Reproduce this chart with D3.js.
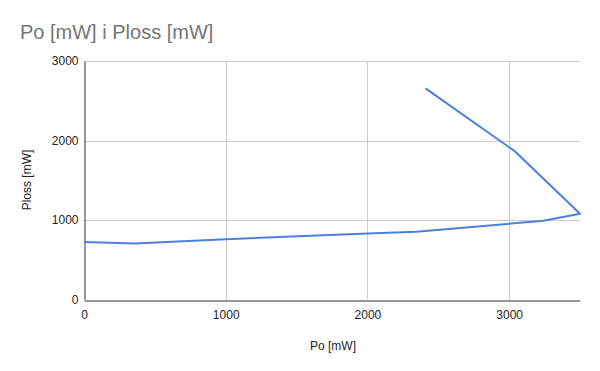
<!DOCTYPE html>
<html>
<head>
<meta charset="utf-8">
<script src="https://cdn.jsdelivr.net/npm/d3@7"></script>
<style>
  body { margin: 0; background: #fff; }
  svg { display: block; font-family: Arial, "Liberation Sans", sans-serif; }
</style>
</head>
<body>
<div id="chart"></div>
<script>
// Po [mW] vs Ploss [mW], in drawing order
const poValues = [0, 360, 1000, 2000, 2345, 3240, 3500, 3040, 2410];
const plossValues = [722, 705, 758, 831, 853, 990, 1078, 1865, 2655];
const xTicks = [0, 1000, 2000, 3000];
const yTicks = [0, 1000, 2000, 3000];

const width = 600;
const height = 371;
const margin = { top: 61, right: 20, bottom: 72, left: 84 };

const svg = d3.select('#chart')
  .append('svg')
  .attr('width', width)
  .attr('height', height);

const x = d3.scaleLinear()
  .domain([0, 3500])
  .range([margin.left, width - margin.right]);

const y = d3.scaleLinear()
  .domain([0, 3000])
  .range([height - margin.bottom + 0.5, margin.top]);

// title
svg.append('text')
  .attr('x', 20)
  .attr('y', 39)
  .attr('fill', '#757575')
  .style('font-size', '20px')
  .text('Po [mW] i Ploss [mW]');

// grid
svg.append('g')
  .selectAll('line')
  .data(yTicks.filter(d => d > 0))
  .enter().append('line')
  .attr('x1', x(0))
  .attr('x2', x(3500))
  .attr('y1', d => Math.round(y(d)) + 0.5)
  .attr('y2', d => Math.round(y(d)) + 0.5)
  .attr('stroke', '#cccccc');

svg.append('g')
  .selectAll('line')
  .data(xTicks.filter(d => d > 0))
  .enter().append('line')
  .attr('x1', d => Math.round(x(d)) + 0.5)
  .attr('x2', d => Math.round(x(d)) + 0.5)
  .attr('y1', y(0))
  .attr('y2', y(3000))
  .attr('stroke', '#cccccc');

// axes
const xAxis = svg.append('g')
  .attr('transform', 'translate(0,' + (Math.round(y(0)) + 0.5) + ')')
  .call(d3.axisBottom(x).tickValues(xTicks).tickFormat(d3.format('d')).tickSize(0).tickPadding(10));
xAxis.select('.domain').attr('stroke', '#333');
xAxis.selectAll('text').attr('fill', '#222').style('font-size', '12px');

const yAxis = svg.append('g')
  .attr('transform', 'translate(' + (x(0) + 0.5) + ',0)')
  .call(d3.axisLeft(y).tickValues(yTicks).tickFormat(d3.format('d')).tickSize(0).tickPadding(6));
yAxis.select('.domain').attr('stroke', '#333');
yAxis.selectAll('text').attr('fill', '#222').style('font-size', '12px');

// axis titles
svg.append('text')
  .attr('x', 333)
  .attr('y', 350)
  .attr('text-anchor', 'middle')
  .attr('fill', '#222')
  .style('font-size', '12px')
  .text('Po [mW]');

svg.append('text')
  .attr('transform', 'translate(31,180) rotate(-90)')
  .attr('text-anchor', 'middle')
  .attr('fill', '#222')
  .style('font-size', '12px')
  .text('Ploss [mW]');

// line
const points = poValues.map((p, i) => ({ po: p, ploss: plossValues[i] }));
const line = d3.line()
  .x(d => x(d.po))
  .y(d => y(d.ploss));

svg.append('path')
  .datum(points)
  .attr('fill', 'none')
  .attr('stroke', '#4a80dc')
  .attr('stroke-width', 2)
  .attr('stroke-linejoin', 'round')
  .attr('d', line);
</script>
</body>
</html>
